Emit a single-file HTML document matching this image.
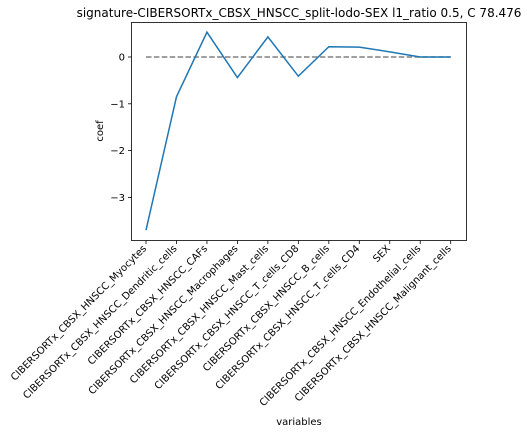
<!DOCTYPE html>
<html><head><meta charset="utf-8"><style>body{margin:0;background:#fff}svg{font-family:"DejaVu Sans","Liberation Sans",sans-serif}</style></head>
<body>
<svg id="chart" width="527" height="433" viewBox="0 0 527 433" xmlns="http://www.w3.org/2000/svg">
<rect width="527" height="433" fill="#fff"/>
<text x="299" y="17" font-size="12" text-anchor="middle">signature-CIBERSORTx_CBSX_HNSCC_split-lodo-SEX l1_ratio 0.5, C 78.476</text>
<g id="plot"></g>
<rect x="131.5" y="22.5" width="335" height="218" fill="none" stroke="#000" stroke-width="0.8"/>
<text transform="translate(103,131) rotate(-90)" font-size="10" text-anchor="middle">coef</text>
<text x="299" y="425" font-size="10" text-anchor="middle">variables</text>
</svg>
<script>
const categories=["CIBERSORTx_CBSX_HNSCC_Myocytes","CIBERSORTx_CBSX_HNSCC_Dendritic_cells","CIBERSORTx_CBSX_HNSCC_CAFs","CIBERSORTx_CBSX_HNSCC_Macrophages","CIBERSORTx_CBSX_HNSCC_Mast_cells","CIBERSORTx_CBSX_HNSCC_T_cells_CD8","CIBERSORTx_CBSX_HNSCC_B_cells","CIBERSORTx_CBSX_HNSCC_T_cells_CD4","SEX","CIBERSORTx_CBSX_HNSCC_Endothelial_cells","CIBERSORTx_CBSX_HNSCC_Malignant_cells"];
const coefs=[-3.70,-0.85,0.53,-0.44,0.43,-0.41,0.22,0.21,0.11,0.0,0.0];
const yTicks=[0,-1,-2,-3];
const NS="http://www.w3.org/2000/svg";
const g=document.getElementById('plot');
function x(i){return 146+i*(450.7-146)/(categories.length-1);}
function y(v){return 57-v*46.8;}
function mk(t,a){const e=document.createElementNS(NS,t);for(const k in a)e.setAttribute(k,a[k]);g.appendChild(e);return e;}
yTicks.forEach(v=>{
  const l=mk('line',{x1:128,x2:131.5,y1:y(v),y2:y(v),stroke:'#000','stroke-width':0.8});
  
  
  const t=mk('text',{x:125,y:y(v)+3.5,'font-size':10,'text-anchor':'end'});
  t.textContent=v===0?'0':'\u2212'+Math.abs(v);
  
  
});
categories.forEach((c,i)=>{
  const l=mk('line',{x1:x(i),x2:x(i),y1:240.5,y2:244,stroke:'#000','stroke-width':0.8});
  
  
  const t=mk('text',{transform:`translate(${x(i)+1},${249}) rotate(-45)`,'font-size':10,'text-anchor':'end'});
  t.textContent=c;
  
  
});
const z=mk('line',{x1:x(0),x2:x(categories.length-1),y1:y(0),y2:y(0),stroke:'#808080','stroke-width':1.5,'stroke-dasharray':'5.5,2.4'});


const p=mk('polyline',{points:coefs.map((v,i)=>x(i)+','+y(v)).join(' '),fill:'none',stroke:'#1f77b4','stroke-width':1.5});


</script>
</body></html>
